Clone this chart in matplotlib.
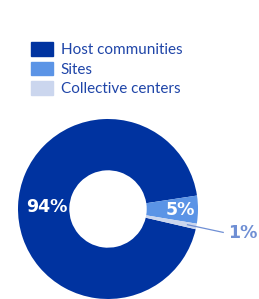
import matplotlib.pyplot as plt
import matplotlib.patches as mpatches
import numpy as np

# share of population by location type
categories = ["Host communities", "Sites", "Collective centers"]
shares = [94, 5, 1]
labels = ["94%", "5%", "1%"]
colors = ["#0033A0", "#5B94E6", "#CBD6EE"]

plt.rcParams["font.family"] = ["Lato", "DejaVu Sans"]
label_font = dict(family="DejaVu Sans", fontsize=12.5, fontweight="bold")

fig = plt.figure(figsize=(2.59, 2.99), dpi=100)
ax = fig.add_axes([18 / 259, 0, 180 / 259, 180 / 299])

wedges, _ = ax.pie(
    shares,
    colors=colors,
    startangle=-13,
    counterclock=False,
    radius=1,
    wedgeprops=dict(width=0.57, edgecolor="none"),
)
ax.set_xlim(-1, 1)
ax.set_ylim(-1, 1)
ax.set_aspect("equal")
ax.axis("off")

# in-ring labels
for w, lab, r in zip(wedges[:2], labels[:2], [0.68, 0.8]):
    ang = np.deg2rad((w.theta1 + w.theta2) / 2)
    ax.text(r * np.cos(ang), r * np.sin(ang), lab, ha="center", va="center",
            color="white", **label_font)

# outside label for the thin slice
w = wedges[2]
ang = np.deg2rad((w.theta1 + w.theta2) / 2)
x0, y0 = 0.9 * np.cos(ang), 0.9 * np.sin(ang)
ax.plot([x0, 1.28], [y0, -0.26], color="#6F8FD4", lw=0.9, clip_on=False)
ax.text(1.33, -0.27, labels[2], ha="left", va="center", color="#6F8FD4",
        clip_on=False, **label_font)

handles = [mpatches.Patch(color=c) for c in colors]
leg = fig.legend(
    handles, categories,
    loc="upper left",
    bbox_to_anchor=(31 / 259, 1 - 42 / 299),
    frameon=False,
    fontsize=11,
    borderpad=0,
    borderaxespad=0,
    handlelength=1.45,
    handleheight=1.0,
    handletextpad=0.5,
    labelspacing=0.3,
)
for t in leg.get_texts():
    t.set_color("#1F45A8")

fig.savefig("out.png", dpi=100)
